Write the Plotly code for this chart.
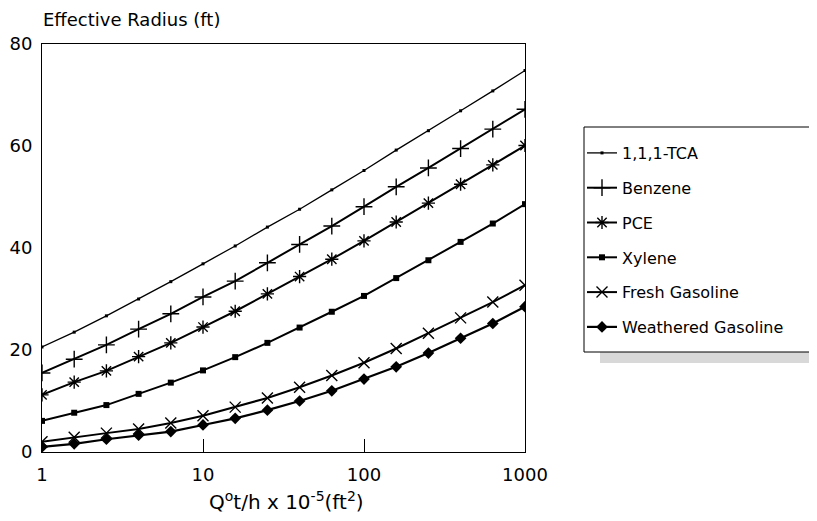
import plotly.graph_objects as go

x_vals = [1, 1.585, 2.512, 3.981, 6.310, 10, 15.85, 25.12, 39.81, 63.10,
          100, 158.5, 251.2, 398.1, 631.0, 1000]

tca = [20.6, 23.5, 26.7, 30.0, 33.4, 36.9, 40.4, 44.1, 47.6, 51.4,
       55.2, 59.2, 63.0, 66.9, 70.8, 74.8]
benzene = [15.5, 18.2, 21.0, 24.1, 27.1, 30.4, 33.5, 37.1, 40.7, 44.3,
           48.1, 52.0, 55.7, 59.5, 63.3, 67.2]
pce = [11.2, 13.7, 15.9, 18.7, 21.4, 24.5, 27.6, 31.0, 34.4, 37.8,
       41.4, 45.1, 48.8, 52.5, 56.3, 60.1]
xylene = [6.1, 7.7, 9.2, 11.4, 13.6, 16.0, 18.6, 21.4, 24.4, 27.5,
          30.6, 34.1, 37.6, 41.2, 44.8, 48.6]
fresh = [2.0, 2.9, 3.7, 4.5, 5.7, 7.1, 8.8, 10.6, 12.7, 15.0,
         17.5, 20.3, 23.3, 26.3, 29.4, 32.7]
weathered = [1.0, 1.6, 2.5, 3.3, 4.0, 5.3, 6.6, 8.2, 10.0, 12.0,
             14.3, 16.7, 19.4, 22.3, 25.2, 28.5]

series_names = ["1,1,1-TCA", "Benzene", "PCE", "Xylene", "Fresh Gasoline", "Weathered Gasoline"]
series_vals = [tca, benzene, pce, xylene, fresh, weathered]
x_ticks = [1, 10, 100, 1000]
x_tick_labels = ["1", "10", "100", "1000"]
y_ticks = [0, 20, 40, 60, 80]

styles = [
    dict(symbol="square", size=3, lw=1.3, mlw=0),
    dict(symbol="cross-thin-open", size=12, lw=2.0, mlw=1.4),
    dict(symbol="asterisk-open", size=11, lw=2.0, mlw=1.4),
    dict(symbol="square", size=6, lw=2.0, mlw=0),
    dict(symbol="x-thin-open", size=11, lw=2.0, mlw=1.4),
    dict(symbol="diamond", size=9, lw=2.2, mlw=0),
]

FONT = "DejaVu Sans, Arial, sans-serif"

fig = go.Figure()
for i, (name, vals) in enumerate(zip(series_names, series_vals)):
    st = styles[i]
    fig.add_trace(go.Scatter(
        x=x_vals, y=vals, name=name, mode="lines+markers",
        legendgroup=f"g{i}",
        line=dict(color="black", width=st["lw"]),
        marker=dict(symbol=st["symbol"], size=st["size"], color="black",
                    line=dict(color="black", width=st["mlw"])),
    ))

# page offset of 8px (body margin)
OFF = 8
W, H = 817 - OFF, 521 - OFF
L, T = 42 - OFF, 44 - OFF
pw, ph = 483, 408
R = W - L - pw
B = H - T - ph

def px(xp):
    return (xp - OFF - L) / pw

def py(yp):
    return (T + ph - (yp - OFF)) / ph

def cx(xp):
    return (xp - OFF) / W

def cy(yp):
    return 1 - (yp - OFF) / H

fig.update_layout(
    width=W, height=H,
    margin=dict(l=L, r=R, t=T, b=B, autoexpand=False),
    paper_bgcolor="white", plot_bgcolor="white",
    font=dict(family=FONT, color="black", size=18),
    showlegend=True,
    legend=dict(
        xref="container", yref="container",
        x=cx(582), y=cy(136), xanchor="left", yanchor="top",
        bgcolor="rgba(0,0,0,0)", borderwidth=0,
        font=dict(size=16, family=FONT, color="black"),
        tracegroupgap=11, itemwidth=30,
    ),
    xaxis=dict(
        type="log", range=[0, 3], tickvals=x_ticks, ticktext=x_tick_labels,
        ticks="inside", ticklen=13, tickwidth=1, tickcolor="black",
        showgrid=False, zeroline=False,
        showline=True, linecolor="black", linewidth=1, mirror=True,
        tickfont=dict(size=18), ticklabelstandoff=6,
    ),
    yaxis=dict(
        range=[0, 80], tickvals=y_ticks, ticks="",
        showgrid=False, zeroline=False,
        showline=True, linecolor="black", linewidth=1, mirror=True,
        tickfont=dict(size=18), ticklabelstandoff=5,
    ),
    shapes=[
        dict(type="rect", xref="paper", yref="paper",
             x0=px(600), x1=px(830), y0=py(363), y1=py(352),
             fillcolor="#d8d8d8", line=dict(width=0), layer="below"),
        dict(type="rect", xref="paper", yref="paper",
             x0=px(584), x1=px(830), y0=py(352), y1=py(127),
             fillcolor="rgba(0,0,0,0)", line=dict(color="black", width=1)),
    ],
    annotations=[
        dict(text="Effective Radius (ft)", xref="paper", yref="paper",
             x=px(41), y=py(19), xanchor="left", yanchor="middle",
             showarrow=False, font=dict(size=18)),
        dict(text="Q<sup>o</sup>t/h x 10<sup>-5</sup>(ft<sup>2</sup>)",
             xref="paper", yref="paper",
             x=px(286), y=py(501), xanchor="center", yanchor="middle",
             showarrow=False, font=dict(size=20)),
    ],
)

fig.write_html("out.html")
